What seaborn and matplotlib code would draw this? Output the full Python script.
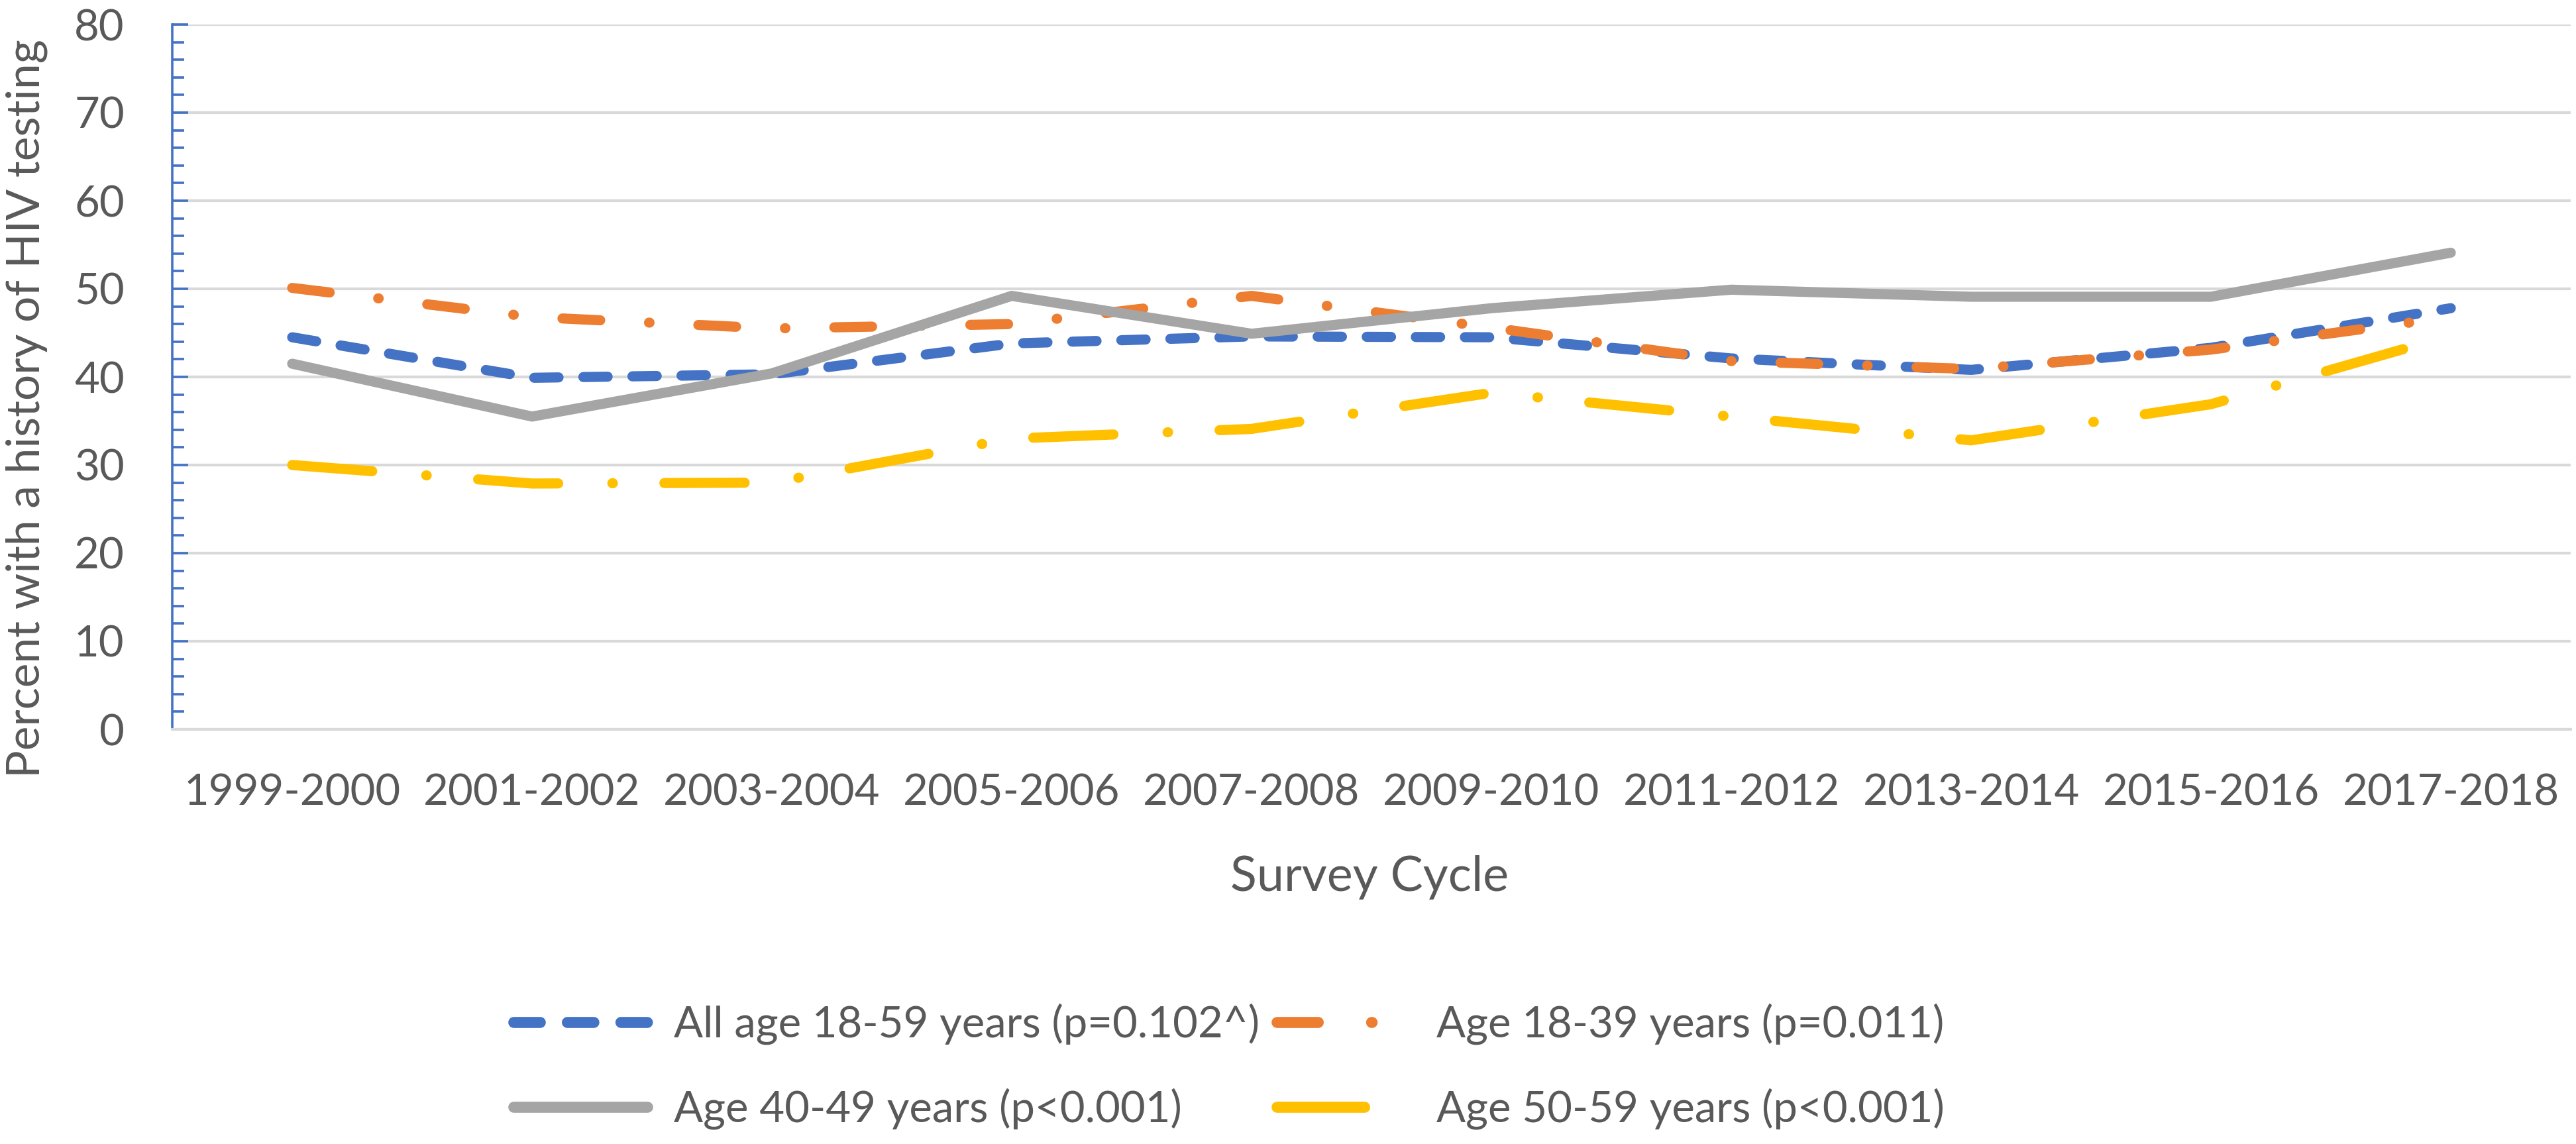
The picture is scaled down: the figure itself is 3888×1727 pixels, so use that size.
import matplotlib
matplotlib.use("Agg")
import matplotlib.pyplot as plt
import pandas as pd
import seaborn as sns
from matplotlib.lines import Line2D
from matplotlib.ticker import MultipleLocator

# survey cycles on the x axis
cycles = ["1999-2000", "2001-2002", "2003-2004", "2005-2006", "2007-2008",
          "2009-2010", "2011-2012", "2013-2014", "2015-2016", "2017-2018"]

# percent with a history of HIV testing
all_18_59 = [44.5, 39.9, 40.3, 43.8, 44.6, 44.5, 42.1, 40.8, 43.3, 47.8]
age_18_39 = [50.1, 46.8, 45.5, 46.0, 49.2, 45.6, 41.8, 40.9, 43.1, 46.8]
age_40_49 = [41.5, 35.5, 40.4, 49.2, 44.9, 47.8, 49.9, 49.1, 49.1, 54.1]
age_50_59 = [30.0, 27.9, 28.0, 33.0, 34.1, 38.2, 35.5, 32.8, 36.9, 44.7]

series_names = ["All age 18-59 years (p=0.102^)", "Age 18-39 years (p=0.011)",
                "Age 40-49 years (p<0.001)", "Age 50-59 years (p<0.001)"]
series_values = [all_18_59, age_18_39, age_40_49, age_50_59]
colors = ["#4472C4", "#ED7D31", "#A5A5A5", "#FFC000"]
# dash patterns in units of line width (excel style dash, long dash-dot, solid, long dash-dot)
dash_patterns = [(2.4, 2.45), (3.73, 4.83, 0.05, 4.83), "", (7.93, 5.35, 0.05, 5.09)]

TEXT = "#595959"
GRID = "#D9D9D9"
W, H = 3888, 1727

df = pd.DataFrame({
    "cycle": cycles * len(series_names),
    "percent": [v for vals in series_values for v in vals],
    "series": [name for name in series_names for _ in cycles],
})

sns.set_style("white")
plt.rcParams["font.family"] = ["Lato", "DejaVu Sans"]

fig = plt.figure(figsize=(W / 100, H / 100), dpi=100)
ax = fig.add_axes([260 / W, 1 - 1101 / H, 3620 / W, (1101 - 37) / H])

sns.lineplot(data=df, x="cycle", y="percent", hue="series", style="series",
             palette=dict(zip(series_names, colors)),
             dashes=dict(zip(series_names, dash_patterns)),
             linewidth=11, sort=False, legend=False, ax=ax)

for line in ax.lines:
    line.set_dash_capstyle("round")
    line.set_solid_capstyle("round")
    line.set_solid_joinstyle("round")
    line.set_dash_joinstyle("round")

ax.set_xlim(-0.5, len(cycles) - 0.5)
ax.set_ylim(0, 80)
ax.yaxis.set_major_locator(MultipleLocator(10))
ax.yaxis.set_minor_locator(MultipleLocator(2))
ax.grid(axis="y", which="major", color=GRID, linewidth=3)
ax.set_axisbelow(True)

for side in ["top", "right"]:
    ax.spines[side].set_visible(False)
ax.spines["left"].set_color("#4472C4")
ax.spines["left"].set_linewidth(2.6)
ax.spines["bottom"].set_color(GRID)
ax.spines["bottom"].set_linewidth(3)

ax.tick_params(axis="y", which="major", left=True, direction="in", length=17, width=2.6,
               color="#4472C4", labelsize=47, labelcolor=TEXT, pad=52)
ax.tick_params(axis="y", which="minor", left=True, direction="in", length=13, width=2.6,
               color="#4472C4")
ax.tick_params(axis="x", bottom=False, length=0, labelsize=47, labelcolor=TEXT, pad=48)
ax.set_xlabel("")
ax.set_ylabel("")

fig.text(2067 / W, 1 - 1345 / H, "Survey Cycle", ha="center", va="baseline",
         fontsize=53, color=TEXT)
fig.text(40 / W, 1 - 617 / H, "Percent with a history of HIV testing",
         rotation=90, ha="center", va="center", fontsize=50, color=TEXT)

handles = []
for c, d in zip(colors, dash_patterns):
    h = Line2D([], [], color=c, linewidth=12, linestyle="-",
               dash_capstyle="round", solid_capstyle="round")
    if d:
        h.set_dashes(d)
    handles.append(h)

# matplotlib fills legend columns first, so reorder for row-wise reading
order = [0, 2, 1, 3]
leg = fig.legend([handles[i] for i in order], [series_names[i] for i in order],
                 loc="center", ncol=2,
                 bbox_to_anchor=(1855 / W, 1 - 1610 / H), frameon=False,
                 fontsize=47, handlelength=3.1, handletextpad=0.6,
                 columnspacing=0.4, labelspacing=1.0)
for t in leg.get_texts():
    t.set_color(TEXT)

fig.savefig("out.png", dpi=100)
